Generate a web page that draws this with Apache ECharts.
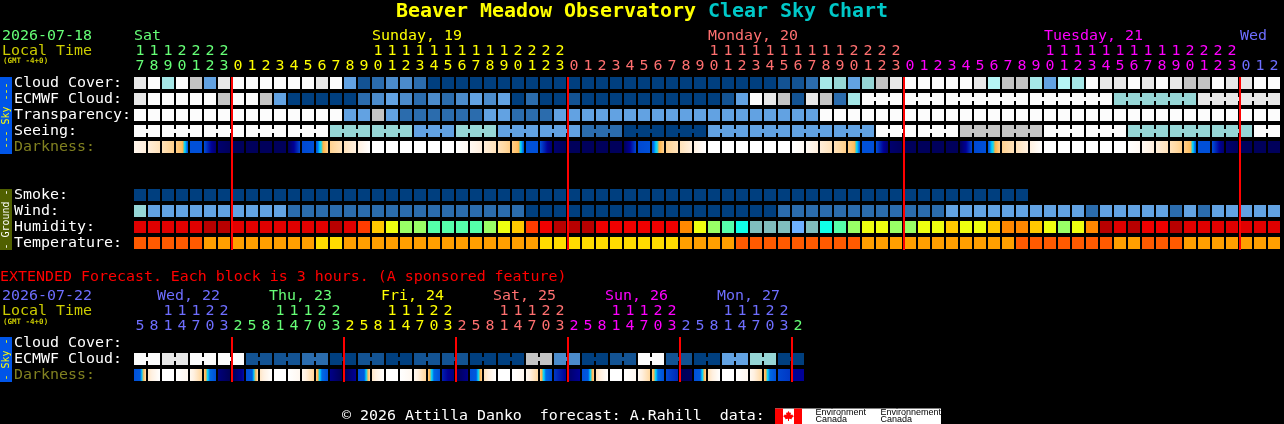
<!DOCTYPE html>
<html><head><meta charset="utf-8">
<style>html,body{margin:0;padding:0;background:#000}#c{width:1284px;height:424px}</style>
<script src="https://cdn.jsdelivr.net/npm/echarts@6/dist/echarts.min.js"></script>
</head><body><div id="c"></div>
<script>
// ---------- data ----------
const hoursTop = [17,18,19,20,21,22,23,0,1,2,3,4,5,6,7,8,9,10,11,12,13,14,15,16,17,18,19,20,21,22,23,0,1,2,3,4,5,6,7,8,9,10,11,12,13,14,15,16,17,18,19,20,21,22,23,0,1,2,3,4,5,6,7,8,9,10,11,12,13,14,15,16,17,18,19,20,21,22,23,0,1,2];
const hoursExt = [5,8,11,14,17,20,23,2,5,8,11,14,17,20,23,2,5,8,11,14,17,20,23,2,5,8,11,14,17,20,23,2,5,8,11,14,17,20,23,2,5,8,11,14,17,20,23,2];
const dayLabelsTop = [[0,'Sat',0],[17,'Sunday, 19',1],[41,'Monday, 20',2],[65,'Tuesday, 21',3],[79,'Wed',4]];
const dayLabelsExt = [[1.64,'Wed, 22',4],[9.64,'Thu, 23',0],[17.64,'Fri, 24',1],[25.64,'Sat, 25',2],[33.64,'Sun, 26',3],[41.64,'Mon, 27',4]];
const rowsTop = ['date','tens','units','Cloud Cover:','ECMWF Cloud:','Transparency:','Seeing:','Darkness:','gap1','gap2','Smoke:','Wind:','Humidity:','Temperature:'];
const rowsExt = ['date','tens','units','Cloud Cover:','ECMWF Cloud:','Darkness:'];

const cloudCover = [9,10,6,10,8,4,9,10,10,10,10,10,10,9,10,4,1,2,3,3,2,0,0,0,0,0,0,0,0,0,0,0,0,0,0,0,0,0,0,0,0,0,0,0,0,0,1,1,2,6,5,4,5,8,9,10,10,10,10,10,9,7,8,8,6,4,7,6,10,9,9,10,9,10,9,8,8,10,9,9,10,10];
const ecmwfSingles = [9,10,10,10,10,10,8,10,10,8,4,0,0,0,0,0,2,3,4,3,2,3,2,3,4,3,4,0,2,0,0,1,0,0,0,0,0,0,0,0,0,0,1,4,10,9,8,1,9,8,2,6];
const ecmwfBlocks = [[10,3],[10,3],[10,6],[10,6],[5,6],[9,6]];
const transparency = [10,10,10,10,10,10,10,10,10,10,10,10,10,10,10,4,4,8,4,2,2,2,2,2,2,4,4,2,2,2,4,4,4,4,4,4,4,4,4,4,4,4,4,4,4,4,4,4,4,10,10,10,10,10,10,10,10,10,10,10,10,10,10,10,10,10,10,10,10,10,10,10,10,10,10,10,10,10,10,10,10,10];
const seeingBlocks = [[10,2],[10,3],[10,3],[10,3],[10,3],[5,3],[5,3],[4,3],[5,3],[4,3],[4,3],[2,3],[0,3],[0,3],[4,3],[4,3],[4,3],[4,3],[10,3],[10,3],[8,3],[8,3],[10,3],[10,3],[5,3],[5,3],[5,3],[10,2]];
const darkStart = [6.4,5.9,5.4,4.7,2,2,.4,.1,.1,.1,.1,.1,1.9,2,4.8,5.4,6,7,7,7,7,7,7,7,6.6,5.9,5.4,4.7,2,2,.4,.1,.1,.1,.1,.1,1.9,2,4.8,5.4,6,7,7,7,7,7,7,7,6.6,5.9,5.4,4.7,2,2,.4,.1,.1,.1,.1,.1,1.9,2,4.8,5.4,6,7,7,7,7,7,7,7,6.6,5.9,5.4,4.7,2,2,.4,.1,.1,.1];
const darkEnd   = [5.9,5.4,4.7,2,2,.4,.1,.1,.1,.1,.1,1.9,2,4.8,5.4,6,7,7,7,7,7,7,7,6.6,5.9,5.4,4.7,2,2,.4,.1,.1,.1,.1,.1,1.9,2,4.8,5.4,6,7,7,7,7,7,7,7,6.6,5.9,5.4,4.7,2,2,.4,.1,.1,.1,.1,.1,1.9,2,4.8,5.4,6,7,7,7,7,7,7,7,6.6,5.9,5.4,4.7,2,2,.4,.1,.1,.1,.1];
const darkMiddle = {3:4.2,13:3.6,27:4.2,37:3.6,51:4.2,61:3.6,75:4.2};
const smoke = [0,0,0,0,0,0,0,0,0,0,0,0,0,0,0,0,0,0,0,0,0,0,0,0,0,0,0,0,0,0,0,0,0,0,0,0,0,0,0,0,0,0,0,0,0,0,0,0,0,0,0,0,0,0,0,0,0,0,0,0,0,0,0,0];
const wind = [5,4,4,4,4,4,4,4,4,4,4,2,2,2,2,2,2,2,2,2,2,2,2,2,2,2,2,2,0,0,0,0,0,0,0,0,0,0,0,0,0,0,0,0,0,0,2,2,2,2,2,2,2,2,2,2,2,2,4,4,4,4,4,4,4,4,4,4,2,4,4,4,4,4,2,4,2,4,4,4,4,4];
const humidity = [10,10,10,10,10,11,11,10,10,10,10,10,10,10,11,10,8,6,5,4,4,3,3,3,3,4,5,6,8,9,11,11,11,9,9,9,9,9,9,7,5,4,3,2,1,1,1,0,1,2,3,4,5,5,4,4,5,5,6,5,5,6,7,7,6,5,4,5,7,11,10,11,9,9,11,10,10,10,10,10,10,10];
const temperature = [0,0,0,0,0,1,1,1,1,1,1,1,1,2,2,1,1,1,1,1,1,1,1,1,1,1,1,1,1,2,2,2,2,2,2,2,2,2,2,1,1,1,1,0,0,0,0,0,0,0,0,0,1,1,1,1,1,1,1,1,1,1,1,0,0,0,0,0,0,0,1,1,0,0,0,1,1,1,1,1,1,1];
const extEcmwfBlocks = [[10,2],[9,2],[10,2],[10,2],[1,2],[1,2],[2,2],[0,2],[1,2],[0,2],[1,2],[1,2],[0,2],[0,2],[8,2],[3,2],[0,2],[1,2],[10,2],[1,2],[0,2],[4,2],[5,2],[0,2]];
const extDarkStart = [2,5.6,7,7,6.5,4.6,.6,0, 2,5.6,7,7,6.5,4.6,.8,0, 2,5.6,7,7,6.5,4.6,1.4,0, 2,5.4,7,7,6.5,4.6,1.7,.3, 2,5.4,7,7,6.5,4.6,1.9,0, 2,5.4,7,7,6.5,4.6,1.9,1];
const extDarkEnd   = [5.3,7,7,6.5,4.9,2,0,1.2, 5.3,7,7,6.5,4.9,2,0,1, 5,7,7,6.5,4.9,2,.6,.8, 4.8,7,7,6.5,5,2,1,1, 4.8,7,7,6.5,5,2,1.5,.2, 4.8,7,7,6.5,5,2,1.7,1];
const extDarkMiddle = {0:2.1,5:2.3,8:2.1,13:2.3,16:2.1,21:2.3,24:2.1,29:2.3,32:2.1,37:2.3,40:2.1,45:2.3};

// ---------- palettes ----------
const skyPalette = ['#003F7F','#135393','#2B6CAD','#4B8BCB','#62A2E2','#96D6D6','#A5E7E7','#B6F6F6','#C4C4C4','#E8E8E8','#FCFCFC'];
const humidityPalette = ['#6EB0FF','#80BEBE','#10FFE8','#55FFAA','#99FF66','#EEFF10','#FFC800','#FF8800','#FF3C00','#F00000','#E00000','#B80000'];
const temperaturePalette = ['#FF5A00','#FF9F00','#FFDC00'];
const darkRamp = [[0,[0,0,84]],[1,[0,0,150]],[2,[0,80,216]],[2.6,[0,130,240]],[3,[0,210,255]],[3.5,[40,210,220]],[3.8,[255,176,64]],[5,[255,216,160]],[6,[255,240,224]],[7,[255,255,255]]];
const dayColors = ['#66FF77','#FFFF00','#FF7070','#FF00FF','#6E6EFF'];
const MONO = '"DejaVu Sans Mono","Liberation Mono",monospace';
const labelFont = '14.95px ' + MONO;

function rampColor(v){
  for(let i=1;i<darkRamp.length;i++){
    if(v<=darkRamp[i][0]){
      const a=darkRamp[i-1],b=darkRamp[i],t=(v-a[0])/(b[0]-a[0]);
      const c=a[1].map((x,j)=>Math.round(x+(b[1][j]-x)*t));
      return 'rgb('+c.join(',')+')';
    }
  }
  return '#FFFFFF';
}

// ---------- series builders ----------
function cellSeries(grid,row,levels,palette){
  return {type:'custom',xAxisIndex:grid,yAxisIndex:grid,silent:true,animation:false,clip:false,
    data:levels.map((v,k)=>[k,row,v]),
    encode:{x:0,y:1},
    renderItem(p,api){
      const c=api.coord([api.value(0),api.value(1)]),s=api.size([1,1]);
      return {type:'rect',shape:{x:c[0]+1,y:c[1]-6,width:s[0]-2,height:s[1]-4},style:{fill:palette[api.value(2)]}};
    }};
}
function blockSeries(grid,row,blocks,start){
  const data=[];let k=start;
  blocks.forEach(b=>{for(let i=0;i<b[1];i++){data.push([k,row,b[0],i<b[1]-1?1:0]);k++;}});
  return {type:'custom',xAxisIndex:grid,yAxisIndex:grid,silent:true,animation:false,clip:false,
    data,encode:{x:0,y:1},
    renderItem(p,api){
      const c=api.coord([api.value(0),api.value(1)]),s=api.size([1,1]),fill=skyPalette[api.value(2)];
      const children=[{type:'rect',shape:{x:c[0]+1,y:c[1]-6,width:s[0]-2,height:s[1]-4},style:{fill}}];
      if(api.value(3))children.push({type:'rect',shape:{x:c[0]+s[0]-1,y:c[1]-2,width:2,height:4},style:{fill}});
      return {type:'group',children};
    }};
}
function darkSeries(grid,row,a,b,mid){
  return {type:'custom',xAxisIndex:grid,yAxisIndex:grid,silent:true,animation:false,clip:false,
    data:a.map((v,k)=>[k,row,v,b[k]]),encode:{x:0,y:1},
    renderItem(p,api){
      const c=api.coord([api.value(0),api.value(1)]),s=api.size([1,1]);
      const l=api.value(2),r=api.value(3),stops=[];
      const m=mid[p.dataIndex]!==undefined?mid[p.dataIndex]:(l+r)/2;
      for(let i=0;i<=12;i++){
        const t=i/12,v=t<.5?l+(m-l)*t*2:m+(r-m)*(t-.5)*2;
        stops.push({offset:t,color:rampColor(v)});
      }
      return {type:'rect',shape:{x:c[0]+1,y:c[1]-6,width:s[0]-2,height:s[1]-4},
        style:{fill:new echarts.graphic.LinearGradient(0,0,1,0,stops)}};
    }};
}
function hourColorIndex(hours,k,first){
  let d=first;for(let i=1;i<=k;i++)if(hours[i]<hours[i-1])d++;
  return d%dayColors.length;
}
function hourSeries(grid,hours,first){
  const data=[];
  hours.forEach((h,k)=>{
    const col=hourColorIndex(hours,k,first);
    data.push([k+.5,2,String(h%10),col]);
    if(h>=10)data.push([k+.5,1,String(Math.floor(h/10)),col]);
  });
  return {type:'custom',xAxisIndex:grid,yAxisIndex:grid,silent:true,animation:false,clip:false,
    data,encode:{x:0,y:1},
    renderItem(p,api){
      const c=api.coord([api.value(0),api.value(1)]);
      const dy=api.value(1)===2?-1:0;
      return {type:'text',style:{text:data[p.dataIndex][2],x:c[0],y:c[1]+dy,align:'center',verticalAlign:'middle',
        fill:dayColors[data[p.dataIndex][3]],font:labelFont}};
    }};
}
function daySeries(grid,labels){
  return {type:'custom',xAxisIndex:grid,yAxisIndex:grid,silent:true,animation:false,clip:false,
    data:labels.map(l=>[l[0],0]),encode:{x:0,y:1},
    renderItem(p,api){
      const c=api.coord([api.value(0),0]),l=labels[p.dataIndex];
      return {type:'text',style:{text:l[1],x:c[0]+1,y:c[1]+1,align:'left',verticalAlign:'middle',fill:dayColors[l[2]],font:labelFont}};
    }};
}
function midnightSeries(grid,hours,rowFrom,rowTo){
  const data=[];
  hours.forEach((h,k)=>{if(k>0&&h<hours[k-1])data.push([k]);});
  return {type:'custom',xAxisIndex:grid,yAxisIndex:grid,silent:true,animation:false,clip:false,z:5,
    data,encode:{x:0},
    renderItem(p,api){
      const a=api.coord([api.value(0),rowFrom]),b=api.coord([api.value(0),rowTo]);
      return {type:'rect',shape:{x:a[0],y:a[1]-6,width:2,height:b[1]-a[1]+13},style:{fill:'#FF0000'}};
    }};
}

// ---------- chart ----------
const ROW=rowsTop.reduce((m,n,i)=>(m[n]=i,m),{});
const XROW=rowsExt.reduce((m,n,i)=>(m[n]=i,m),{});
const ecmwfAll=ecmwfSingles.map(v=>[v,1]);

function yAxis(grid,rows){
  return {type:'category',gridIndex:grid,data:rows,inverse:true,
    axisLine:{show:false},axisTick:{show:false},splitLine:{show:false},
    axisLabel:{show:true,interval:0,align:'left',margin:119,fontFamily:MONO,fontSize:14.95,padding:[0,0,4,0],
      formatter:v=>/:$/.test(v)?v:'',
      color:v=>v==='Darkness:'?'#808020':'#FFFFFF'}};
}
function xAxis(grid,n){return {type:'value',gridIndex:grid,min:0,max:n,show:false,splitLine:{show:false}};}

function txt(text,x,y,fill,extra){
  return {type:'text',x,y,silent:true,style:Object.assign({text,fill,font:labelFont,align:'left',verticalAlign:'middle'},extra||{})};
}
function sideBar(x,y0,y1,bg,text,fg){
  return [{type:'rect',silent:true,shape:{x,y:y0,width:12,height:y1-y0},style:{fill:bg}},
    {type:'text',silent:true,x:x+6,y:(y0+y1)/2,rotation:Math.PI/2,
     style:{text,fill:fg,font:'10px '+MONO,align:'center',verticalAlign:'middle'}}];
}
const leaf=[[788.5,411],[789.8,413],[791,412.6],[790.6,415],[792.4,414.4],[792.8,415.6],[794,416],[791.6,418.2],[792,419.2],[789,418.8],[789,421],[788,421],[788,418.8],[785,419.2],[785.4,418.2],[783,416],[784.2,415.6],[784.6,414.4],[786.4,415],[786,412.6],[787.2,413]];
const titleFont={fontFamily:MONO,fontWeight:'bold',fontSize:19.95};

const option={
  backgroundColor:'#000000',animation:false,
  title:[{left:396,top:2,padding:0,text:'Beaver Meadow Observatory',textStyle:Object.assign({color:'#FFFF00'},titleFont)},
         {left:708,top:2,padding:0,text:'Clear Sky Chart',textStyle:Object.assign({color:'#00C8C8'},titleFont)}],
  grid:[{left:133,top:27,width:82*14,height:rowsTop.length*16,containLabel:false},
        {left:133,top:287,width:48*14,height:rowsExt.length*16,containLabel:false}],
  xAxis:[xAxis(0,82),xAxis(1,48)],
  yAxis:[yAxis(0,rowsTop),yAxis(1,rowsExt)],
  series:[
    daySeries(0,dayLabelsTop),hourSeries(0,hoursTop,0),
    cellSeries(0,ROW['Cloud Cover:'],cloudCover,skyPalette),
    blockSeries(0,ROW['ECMWF Cloud:'],ecmwfAll.concat(ecmwfBlocks),0),
    cellSeries(0,ROW['Transparency:'],transparency,skyPalette),
    blockSeries(0,ROW['Seeing:'],seeingBlocks,0),
    darkSeries(0,ROW['Darkness:'],darkStart,darkEnd,darkMiddle),
    cellSeries(0,ROW['Smoke:'],smoke,skyPalette),
    cellSeries(0,ROW['Wind:'],wind,skyPalette),
    cellSeries(0,ROW['Humidity:'],humidity,humidityPalette),
    cellSeries(0,ROW['Temperature:'],temperature,temperaturePalette),
    midnightSeries(0,hoursTop,ROW['Cloud Cover:'],ROW['Temperature:']),
    daySeries(1,dayLabelsExt),hourSeries(1,hoursExt,4),
    blockSeries(1,XROW['ECMWF Cloud:'],extEcmwfBlocks,0),
    darkSeries(1,XROW['Darkness:'],extDarkStart,extDarkEnd,extDarkMiddle),
    midnightSeries(1,hoursExt,XROW['Cloud Cover:'],XROW['Darkness:'])
  ],
  graphic:[
    txt('2026-07-18',2,36,'#66FF77'),
    txt('Local Time',2,51,'#CCCC00'),
    txt('(GMT -4+0)',3,61,'#CCCC00',{font:'bold 7.5px '+MONO}),
    txt('EXTENDED Forecast. Each block is 3 hours. (A sponsored feature)',0,277,'#FF0000'),
    txt('2026-07-22',2,296,'#6E6EFF'),
    txt('Local Time',2,311,'#CCCC00'),
    txt('(GMT -4+0)',3,322,'#CCCC00',{font:'bold 7.5px '+MONO}),
    ...sideBar(0,77,154,'#0055E8','--- Sky ---','#FFFF00'),
    ...sideBar(0,189,250,'#506000','- Ground -','#FFFFFF'),
    ...sideBar(0,337,382,'#0055E8','- Sky -','#FFFF00'),
    txt('\u00A9 2026 Attilla Danko  forecast: A.Rahill  data:',342,416.5,'#FFFFFF'),
    {type:'rect',silent:true,shape:{x:775,y:408.5,width:166,height:15.5},style:{fill:'#FFFFFF'}},
    {type:'rect',silent:true,shape:{x:775,y:408.5,width:8,height:15.5},style:{fill:'#FF0000'}},
    {type:'rect',silent:true,shape:{x:794,y:408.5,width:8,height:15.5},style:{fill:'#FF0000'}},
    {type:'polygon',silent:true,shape:{points:leaf},style:{fill:'#FF0000'}},
    txt('Environment',815.5,412.5,'#000000',{font:'9px "Liberation Sans",sans-serif'}),
    txt('Canada',815.5,420,'#000000',{font:'9px "Liberation Sans",sans-serif'}),
    txt('Environnement',880.5,412.5,'#000000',{font:'9px "Liberation Sans",sans-serif'}),
    txt('Canada',880.5,420,'#000000',{font:'9px "Liberation Sans",sans-serif'})
  ]
};
echarts.init(document.getElementById('c'),null,{renderer:'canvas',width:1284,height:424}).setOption(option);
</script></body></html>
